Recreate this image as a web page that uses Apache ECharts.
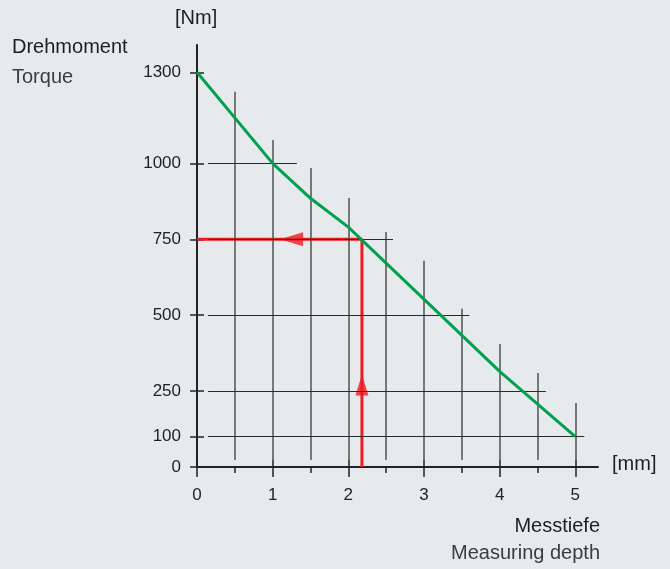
<!DOCTYPE html>
<html><head><meta charset="utf-8">
<script src="https://cdn.jsdelivr.net/npm/echarts@6/dist/echarts.min.js"></script>
<style>html,body{margin:0;padding:0;background:#e7eaed}#c{width:670px;height:569px}</style>
</head><body><div id="c"></div>
<script>
// ---- data ----
const xMajorTicks = [0, 1, 2, 3, 4, 5];
const xMinorTicks = [0.5, 1.5, 2.5, 3.5, 4.5];
const yTicks = [0, 100, 250, 500, 750, 1000, 1300];
const torqueDepth = [0, 1, 1.5, 2, 4, 5];
const torqueValue = [1300, 1000, 885, 790, 315, 100];
const vGridX = [0.5, 1, 1.5, 2, 2.5, 3, 3.5, 4, 4.5, 5];
const vGridTop = [1236, 1077, 985, 886, 774, 679, 521, 405, 310, 211];
const vGridBottom = 23;
const hGridY = [1000, 750, 500, 250, 100];
const hGridStart = 0.146;
const hGridEnd = [1.32, 2.59, 3.6, 4.61, 5.12];
const readDepth = 2.18;
const readTorque = 750;
const upArrowAt = [2.18, 270];
const leftArrowAt = [1.25, 750];

// ---- chart ----
const FONT = "'Liberation Sans','Arial',sans-serif";
const chart = echarts.init(document.getElementById('c'), null, {renderer: 'canvas'});
const gridDef = {left: 197, top: 45, width: 401, height: 422};
const axisLineStyle = {color: '#222', width: 2};

const vLines = vGridX.map((x, i) => [{coord: [x, vGridBottom]}, {coord: [x, vGridTop[i]]}]);
const hLines = hGridY.map((y, i) => [{coord: [hGridStart, y]}, {coord: [hGridEnd[i], y]}]);

const option = {
  backgroundColor: '#e7eaed',
  animation: false,
  textStyle: {fontFamily: FONT},
  grid: gridDef,
  xAxis: [
    {type: 'value', min: 0, max: 5.3, position: 'bottom',
      axisLine: {show: true, onZero: false, lineStyle: axisLineStyle},
      splitLine: {show: false},
      axisTick: {show: true, inside: false, length: 10, customValues: xMajorTicks, lineStyle: {color: '#222', width: 1.5}},
      axisLabel: {show: true, customValues: xMajorTicks, margin: 20, color: '#222', fontSize: 17, fontFamily: FONT,
        formatter: v => String(v)}},
    {type: 'value', min: 0, max: 5.3, position: 'bottom',
      axisLine: {show: false},
      splitLine: {show: false},
      axisTick: {show: true, inside: false, length: 6, customValues: xMinorTicks, lineStyle: {color: '#222', width: 1.5}},
      axisLabel: {show: false}},
    {type: 'value', min: 0, max: 5.3, position: 'bottom',
      axisLine: {show: false},
      splitLine: {show: false},
      axisTick: {show: true, inside: true, length: 7, customValues: xMajorTicks, lineStyle: {color: '#222', width: 1.5}},
      axisLabel: {show: false}}
  ],
  yAxis: [
    {type: 'value', min: 0, max: 1390, position: 'left',
      axisLine: {show: true, onZero: false, lineStyle: axisLineStyle},
      splitLine: {show: false},
      axisTick: {show: true, inside: false, length: 7, customValues: yTicks, lineStyle: {color: '#222', width: 1.5}},
      axisLabel: {show: true, customValues: yTicks, margin: 16, color: '#222', fontSize: 17, fontFamily: FONT,
        formatter: v => String(v)}},
    {type: 'value', min: 0, max: 1390, position: 'left',
      axisLine: {show: false},
      splitLine: {show: false},
      axisTick: {show: true, inside: true, length: 7, customValues: yTicks, lineStyle: {color: '#222', width: 1.5}},
      axisLabel: {show: false}}
  ],
  series: [
    {type: 'line', data: [], silent: true, z: 1,
      markLine: {silent: true, symbol: ['none', 'none'], label: {show: false}, animation: false,
        lineStyle: {color: '#505050', width: 1.5, type: 'solid'}, data: vLines}},
    {type: 'line', data: [], silent: true, z: 1,
      markLine: {silent: true, symbol: ['none', 'none'], label: {show: false}, animation: false,
        lineStyle: {color: '#2a2a2a', width: 1.2, type: 'solid'}, data: hLines}},
    {type: 'line', name: 'read', z: 3, symbol: 'none',
      data: [[readDepth, 0], [readDepth, readTorque], [0, readTorque]],
      lineStyle: {color: '#ec1c24', width: 3}},
    {type: 'scatter', z: 4, symbol: 'triangle', symbolSize: [13, 21], itemStyle: {color: '#ec1c24'},
      data: [upArrowAt]},
    {type: 'scatter', z: 4, symbol: 'triangle', symbolSize: [14, 23], symbolRotate: 90, itemStyle: {color: '#ec1c24'},
      data: [leftArrowAt]},
    {type: 'line', name: 'torque', z: 5, symbol: 'none',
      data: torqueDepth.map((d, i) => [d, torqueValue[i]]),
      lineStyle: {color: '#00a04f', width: 3}}
  ],
  graphic: [
    {type: 'text', left: 12, top: 37, style: {text: 'Drehmoment', font: '20px ' + FONT, fill: '#1e1e1e'}},
    {type: 'text', left: 12, top: 67, style: {text: 'Torque', font: '20px ' + FONT, fill: '#3c3c3c'}},
    {type: 'text', left: 175, top: 8, style: {text: '[Nm]', font: '20px ' + FONT, fill: '#1e1e1e'}},
    {type: 'text', left: 612, top: 454, style: {text: '[mm]', font: '20px ' + FONT, fill: '#1e1e1e'}},
    {type: 'text', right: 70, top: 516, style: {text: 'Messtiefe', font: '20px ' + FONT, fill: '#1e1e1e'}},
    {type: 'text', right: 70, top: 543, style: {text: 'Measuring depth', font: '20px ' + FONT, fill: '#3c3c3c'}}
  ]
};
chart.setOption(option);
</script></body></html>
